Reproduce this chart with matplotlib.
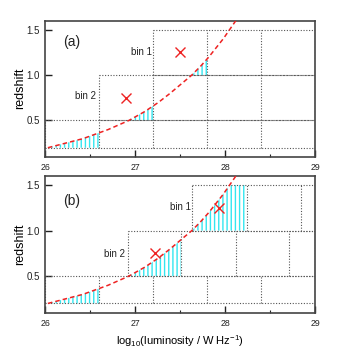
import numpy as np
import matplotlib
matplotlib.use("Agg")
import matplotlib.pyplot as plt

plt.rcParams['font.family'] = ['Liberation Sans', 'DejaVu Sans']
plt.rcParams['mathtext.fontset'] = 'custom'
plt.rcParams['mathtext.rm'] = 'Liberation Sans'
plt.rcParams['hatch.linewidth'] = 1.0

# flux-limit curve: redshift -> log10 luminosity
curve_z = [0.2, 0.3, 0.4, 0.5, 0.6, 0.7, 0.8, 0.9, 1.0, 1.1, 1.2, 1.3, 1.4, 1.5, 1.6]
curve_L = [26.03, 26.42, 26.70, 26.93, 27.11, 27.26, 27.39, 27.51, 27.63, 27.73, 27.82, 27.90, 27.98, 28.05, 28.12]

# bins (z_low, z_high, L edges)
rows_a = [(0.2, 0.5, [26.0, 26.6, 27.2, 27.8, 28.4, 29.0]),
          (0.5, 1.0, [26.6, 27.2, 27.8, 28.4, 29.0]),
          (1.0, 1.5, [27.2, 27.8, 28.4, 29.0])]
rows_b = [(0.2, 0.5, [26.0, 26.6, 27.2, 27.8, 28.4, 29.0]),
          (0.5, 1.0, [26.92, 27.51, 28.12, 28.71, 29.0]),
          (1.0, 1.5, [27.63, 28.24, 28.84, 29.0])]
# shaded region: (z_low, z_high, L right edge)
shade_a = [(0.2, 0.5, 26.6), (0.5, 1.0, 27.2), (1.0, 1.5, 27.8)]
shade_b = [(0.2, 0.5, 26.6), (0.5, 1.0, 27.51), (1.0, 1.5, 28.24)]
# bin centroids
cross_a_L = [26.9, 27.5]
cross_a_z = [0.75, 1.25]
cross_b_L = [27.22, 27.93]
cross_b_z = [0.75, 1.25]
labels_a = [("bin 2", 26.45, 0.77), ("bin 1", 27.07, 1.26)]
labels_b = [("bin 2", 26.77, 0.74), ("bin 1", 27.5, 1.26)]

fig = plt.figure(figsize=(3.5, 3.5), dpi=100)
ax_a = fig.add_axes([0.129, 0.552, 0.771, 0.389])
ax_b = fig.add_axes([0.129, 0.107, 0.771, 0.390])

def draw(ax, rows, shades, cL, cz, labels, tag):
    cz_arr = np.array(curve_z)
    cL_arr = np.array(curve_L)
    for zl, zh, rL in shades:
        Ls = np.linspace(np.interp(zl, cz_arr, cL_arr), rL, 200)
        ztop = np.minimum(np.interp(Ls, cL_arr, cz_arr), zh)
        ax.fill_between(Ls, zl, ztop, facecolor='none', edgecolor='#33e6f0',
                        hatch='||||', linewidth=0, zorder=1)
    for zl, zh, edges in rows:
        ax.hlines([zl, zh], edges[0], edges[-1], colors='#555555',
                  linestyles=(0, (1, 1.5)), linewidth=0.8, zorder=2)
        ax.vlines(edges, zl, zh, colors='#555555',
                  linestyles=(0, (1, 1.5)), linewidth=0.8, zorder=2)
    ax.plot(curve_L, curve_z, color='#ee2222', linestyle=(0, (3, 2)),
            linewidth=1.1, zorder=3)
    ax.plot(cL, cz, linestyle='none', marker='x', color='#ee2222',
            markersize=7, markeredgewidth=1.0, zorder=4)
    for t, x, y in labels:
        ax.text(x, y, t, fontsize=7, ha='center', va='center', color='#222222')
    ax.text(26.29, 1.37 if tag == '(a)' else 1.33, tag, fontsize=10,
            ha='center', va='center', color='#222222')
    ax.set_xlim(26, 29)
    ax.set_ylim(0.1, 1.6)
    ax.set_xticks([26, 27, 28, 29])
    ax.set_xticks([26.5, 27.5, 28.5], minor=True)
    ax.set_yticks([0.5, 1.0, 1.5])
    ax.set_yticklabels(['0.5', '1.0', '1.5'])
    ax.tick_params(axis='both', which='major', direction='in', length=5,
                   width=1.0, colors='#222222')
    ax.tick_params(axis='x', which='minor', direction='in', length=2.5,
                   width=0.8, colors='#222222')
    ax.tick_params(axis='x', which='major', labelsize=6.3, pad=4.5)
    ax.tick_params(axis='y', which='major', labelsize=7, pad=4)
    for s in ax.spines.values():
        s.set_color('#444444')
        s.set_linewidth(1.2)
    ax.set_ylabel('redshift', fontsize=9, labelpad=0)

draw(ax_a, rows_a, shade_a, cross_a_L, cross_a_z, labels_a, '(a)')
draw(ax_b, rows_b, shade_b, cross_b_L, cross_b_z, labels_b, '(b)')
ax_b.set_xlabel('log$_{10}$(luminosity / W Hz$^{-1}$)', fontsize=8, labelpad=4)

fig.savefig('out.png', dpi=100)
